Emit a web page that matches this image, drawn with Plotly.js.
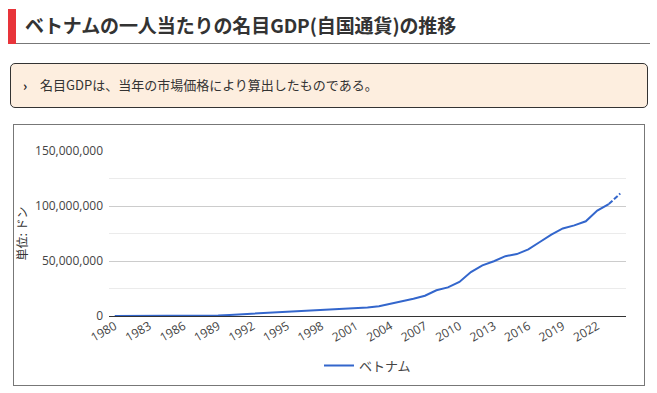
<!DOCTYPE html>
<html>
<head>
<meta charset="utf-8">
<script src="https://cdn.plot.ly/plotly-3.0.1.min.js"></script>
<style>
  html, body { margin:0; padding:0; background:#fff; width:657px; height:393px; overflow:hidden; font-family:"Noto Sans CJK JP","Noto Sans",sans-serif; }
  #hdr { position:absolute; left:8px; top:9px; width:642px; height:34px; border-bottom:1px solid #777; }
  #hdr .bar { position:absolute; left:0; top:0; width:8px; height:35px; background:#e8343a; }
  #hdr .txt { position:absolute; left:17px; top:3px; font-size:19px; font-weight:bold; color:#333; letter-spacing:-0.1px; line-height:26px; white-space:nowrap; }
  #note { position:absolute; left:10px; top:63px; width:636px; height:43px; border:1px solid #333; border-radius:5px; background:#fdeedf; }
  #note .b { position:absolute; left:12px; top:11px; font-size:13px; font-weight:bold; color:#222; line-height:22px; }
  #note .t { position:absolute; left:29px; top:11px; font-size:13px; color:#333; line-height:20px; white-space:nowrap; }
  #box { position:absolute; left:13px; top:124px; width:630px; height:260px; border:1px solid #777; }
  #chart { position:absolute; left:0; top:0; width:657px; height:393px; }
</style>
</head>
<body>
<div id="hdr"><div class="bar"></div><div class="txt">ベトナムの一人当たりの名目GDP(自国通貨)の推移</div></div>
<div id="note"><span class="b">›</span><span class="t">名目GDPは、当年の市場価格により算出したものである。</span></div>
<div id="box"></div>
<div id="chart"></div>
<script>
const seriesName = "ベトナム";
const yAxisTitle = "単位: ドン";
const years = [1980,1981,1982,1983,1984,1985,1986,1987,1988,1989,
  1990,1991,1992,1993,1994,1995,1996,1997,1998,1999,
  2000,2001,2002,2003,2004,2005,2006,2007,2008,2009,
  2010,2011,2012,2013,2014,2015,2016,2017,2018,2019,
  2020,2021,2022,2023,2024];
const gdpPerCapita = [400,800,1500,2500,4000,7000,20000,80000,300000,500000,
  1000000,1600000,2200000,2700000,3200000,3800000,4400000,4900000,5400000,5900000,
  6400000,7000000,7700000,8900000,11000000,13400000,15700000,18400000,23400000,26000000,
  31000000,39900000,46000000,49800000,54400000,56300000,60600000,67300000,74000000,79600000,
  82400000,86100000,95800000,101800000,111300000];
const firstEstimateYear = 2023;
const tickYears = [1980,1983,1986,1989,1992,1995,1998,2001,2004,2007,2010,2013,2016,2019,2022];
const yTicks = [0,50000000,100000000,150000000];

const cut = years.indexOf(firstEstimateYear);
const color = "#3366cc";
const traces = [
  { x: years.slice(0, cut+1), y: gdpPerCapita.slice(0, cut+1), type:"scatter", mode:"lines",
    name: seriesName, legendgroup:"vn", line:{color:color, width:2},
    hovertemplate:"%{x}: %{y:,}<extra></extra>" },
  { x: years.slice(cut), y: gdpPerCapita.slice(cut), type:"scatter", mode:"lines",
    name: seriesName, legendgroup:"vn", showlegend:false, line:{color:color, width:2, dash:"5px,2px"},
    hovertemplate:"%{x}: %{y:,}<extra></extra>" }
];
const tickFam = '"Open Sans","Noto Sans",sans-serif';
const jpFam = '"Noto Sans CJK JP","Noto Sans",sans-serif';
const layout = {
  width:657, height:393,
  margin:{l:109, r:31, t:151, b:74, pad:0},
  paper_bgcolor:"rgba(0,0,0,0)", plot_bgcolor:"rgba(0,0,0,0)",
  font:{family:jpFam, size:12, color:"#444"},
  showlegend:true,
  legend:{orientation:"h", x:0.5, xanchor:"center", y:-0.30, yanchor:"middle",
          font:{family:jpFam, size:13, color:"#444"}, bgcolor:"rgba(0,0,0,0)"},
  xaxis:{ range:[1979.5, 2024.5], tickvals:tickYears, ticktext:tickYears.map(String),
          tickangle:-30, showgrid:false, zeroline:false, showline:false, ticks:"",
          tickfont:{family:tickFam, size:12, color:"#444"}, fixedrange:true },
  yaxis:{ range:[0, 150000000], tickvals:yTicks, tickformat:",d",
          showgrid:true, gridcolor:"#cccccc", gridwidth:1,
          zeroline:true, zerolinecolor:"#333333", zerolinewidth:1,
          showline:false, ticks:"", ticklabelstandoff:5,
          minor:{dtick:25000000, showgrid:true, gridcolor:"#ebebeb", gridwidth:1, ticks:""},
          tickfont:{family:tickFam, size:12, color:"#444"},
          title:{text:yAxisTitle, font:{family:jpFam, size:12, color:"#333"}, standoff:4},
          fixedrange:true }
};
Plotly.newPlot("chart", traces, layout, {displayModeBar:false, staticPlot:true});
</script>
</body>
</html>
